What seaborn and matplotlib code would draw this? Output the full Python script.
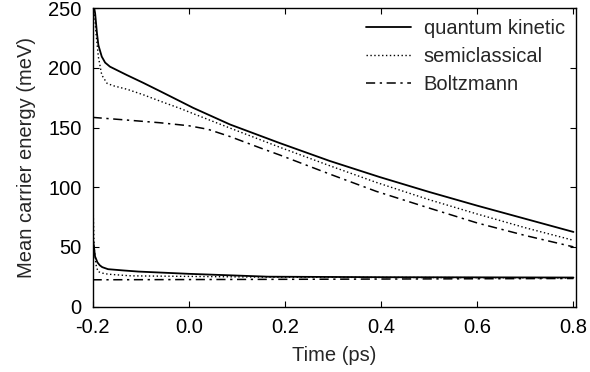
import numpy as np
import pandas as pd
import matplotlib
matplotlib.use("Agg")
import matplotlib.pyplot as plt
import seaborn as sns

# ---- data ----
# upper branch
qk_up_t = [-0.2, -0.1975, -0.1948, -0.191, -0.188, -0.181, -0.174, -0.164, -0.146, -0.129, -0.095,
           -0.060, -0.018, 0.009, 0.086, 0.189, 0.293, 0.397, 0.5, 0.6, 0.7, 0.8]
qk_up_E = [275, 252, 245.7, 229, 219, 209.4, 204.4, 201, 197.4, 194, 187.5,
           180.5, 172, 166.5, 152.5, 137, 122, 108.5, 96, 84.5, 73.5, 62.5]

sc_up_t = [-0.2, -0.197, -0.193, -0.188, -0.181, -0.170, -0.157, -0.128, -0.095, -0.059, -0.018,
           0.01, 0.086, 0.189, 0.293, 0.39, 0.5, 0.6, 0.7, 0.8]
sc_up_E = [275, 250, 229, 209, 194, 187, 185, 182, 177.5, 172, 166,
           161.5, 149.5, 133.5, 118, 104, 89.5, 77.5, 66, 55.5]

bz_up_t = [-0.2, -0.13, -0.06, 0.0, 0.04, 0.086, 0.148, 0.189, 0.293, 0.39, 0.5, 0.6, 0.7, 0.8]
bz_up_E = [158.5, 156.3, 154, 151.5, 148.5, 142.4, 133, 127, 111, 96.5, 82.5, 70, 59.5, 50]

# lower branch
qk_lo_t = [-0.2, -0.199, -0.195, -0.19, -0.185, -0.18, -0.168, -0.135, -0.105, 0.0, 0.165, 0.4, 0.8]
qk_lo_E = [110, 56, 42, 37, 34.5, 33, 31.3, 30.2, 29.3, 27.4, 25.0, 24.6, 24.3]

sc_lo_t = [-0.2, -0.197, -0.193, -0.189, -0.18, -0.168, -0.12, 0.165, 0.8]
sc_lo_E = [100, 50, 35, 29.3, 28, 27.1, 25.7, 24.6, 24.0]

bz_lo_t = [-0.2, 0.2, 0.8]
bz_lo_E = [22.4, 22.8, 23.5]

models = ["quantum kinetic", "semiclassical", "Boltzmann"]
x_ticks = [-0.2, 0.0, 0.2, 0.4, 0.6, 0.8]
y_ticks = [0, 50, 100, 150, 200, 250]

rows = []
for m, br, ts, es in [
    (models[0], "upper", qk_up_t, qk_up_E), (models[0], "lower", qk_lo_t, qk_lo_E),
    (models[1], "upper", sc_up_t, sc_up_E), (models[1], "lower", sc_lo_t, sc_lo_E),
    (models[2], "upper", bz_up_t, bz_up_E), (models[2], "lower", bz_lo_t, bz_lo_E),
]:
    for t, e in zip(ts, es):
        rows.append({"t": t, "E": e, "model": m, "branch": br})
df = pd.DataFrame(rows)

sns.set_style("ticks")
plt.rcParams["font.family"] = ["Liberation Sans", "DejaVu Sans"]

fig = plt.figure(figsize=(5.9, 3.72), dpi=100)
ax = fig.add_axes([0.157, 0.176, 0.819, 0.802])

styles = {models[0]: "-", models[1]: (0, (1, 1.8)), models[2]: (0, (6, 3, 1.5, 3))}
widths = {models[0]: 1.3, models[1]: 1.0, models[2]: 1.1}
for m in models:
    for br in ["upper", "lower"]:
        sub = df[(df.model == m) & (df.branch == br)]
        sns.lineplot(data=sub, x="t", y="E", ax=ax, color="black",
                     linestyle=styles[m], linewidth=widths[m],
                     label=m if br == "upper" else None,
                     estimator=None, sort=False)

ax.set_xlim(-0.2, 0.805)
ax.set_ylim(0, 250)
ax.set_xticks(x_ticks)
ax.set_xticklabels([f"{v:.1f}" for v in x_ticks])
ax.set_yticks(y_ticks)
for s in ax.spines.values():
    s.set_visible(True)
    s.set_linewidth(1.0)
    s.set_color("black")
ax.tick_params(direction="in", length=4, width=0.8, top=True, right=True,
               labelsize=14.5, pad=8, colors="black")
ax.set_xlabel("Time (ps)", fontsize=14.5, labelpad=7)
ax.set_ylabel("Mean carrier energy (meV)", fontsize=14.5, labelpad=9)

leg = ax.legend(loc="upper right", frameon=False, fontsize=14.5,
                handlelength=2.2, handletextpad=0.65, labelspacing=0.45,
                borderaxespad=0.15, borderpad=0.4)

fig.savefig("out.png", dpi=100)
